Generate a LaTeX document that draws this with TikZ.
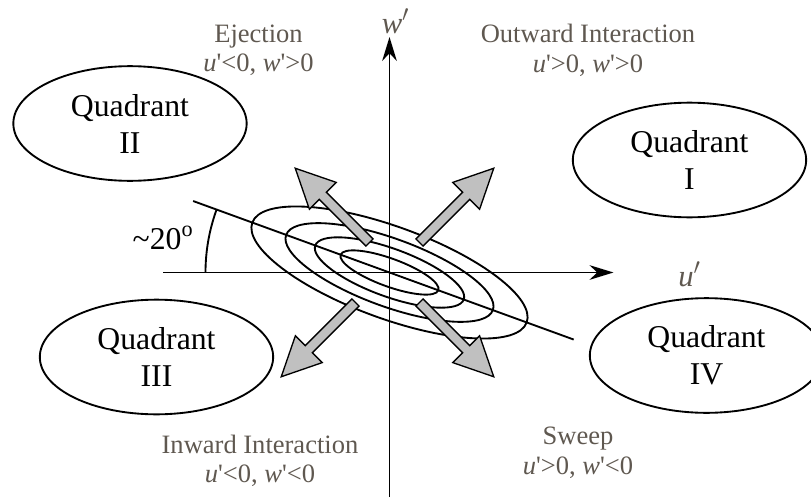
\documentclass[tikz,border=0pt]{standalone}
\usepackage{fontspec}
\setmainfont{Liberation Serif}
\usetikzlibrary{shapes.geometric,arrows.meta}
\definecolor{lblgray}{RGB}{95,88,80}
\definecolor{arrowgray}{RGB}{192,192,192}

\begin{document}
\begin{tikzpicture}[x=0.75pt, y=0.75pt, line width=1.4pt,
		quadrant/.style={draw, ellipse, minimum width=175pt, minimum height=86pt, inner sep=0pt, align=center, font=\fontsize{23.8}{27.75}\selectfont},
		lbl/.style={text=lblgray, align=center, font=\fontsize{19.9}{22}\selectfont},
		axislbl/.style={text=lblgray, anchor=base, font=\fontsize{23}{27}\selectfont\itshape},
		blockarrow/.style={draw, line width=1pt, fill=arrowgray, line join=miter}]
			\useasboundingbox (-389.5,-224.5) rectangle (421.5,272.5);
			% axes
			\coordinate (O) at (0,0);
			\coordinate (ustart) at (-226,0);
			\coordinate (uend) at (224,0);
			\coordinate (wstart) at (0,-224.5);
			\coordinate (wend) at (0,235.5);
			\draw[-{Stealth[length=18pt, width=11pt]}] (ustart) -- (uend);
			\draw[-{Stealth[length=18pt, width=11pt]}] (wstart) -- (wend);
			\node[axislbl] (ulbl) at (300,-14) {u$'$};
			\node[axislbl] (wlbl) at (6,239) {w$'$};
			% tilted line, angle and contours
			\coordinate (tstart) at (160:209);
			\coordinate (tend) at (-20:196);
			\draw (tstart) -- (tend);
			\draw (180:184) arc (180:160:184);
			\node[anchor=base, font=\fontsize{23.8}{27}\selectfont] (ang) at (-226.5,23.5) {\textasciitilde20\textsuperscript{o}};
			\foreach \a/\b in {52/14, 79/24, 110/34, 146/46}
				\draw[rotate=-20] (O) ellipse [x radius=\a, y radius=\b];
			% sweeps and ejections
			\foreach \x/\y/\r in {-20/30/135, 30/30/45, -34/-30/225, 30/-30/315}
				\draw[blockarrow, shift={(\x,\y)}, rotate=\r] (0,5) -- (66,5) -- (66,19) -- (105,0) -- (66,-19) -- (66,-5) -- (0,-5) -- cycle;
			% quadrants
			\node[quadrant] (q2) at (-259.5,149) {Quadrant\\II};
			\node[quadrant] (q1) at (300,112.5) {Quadrant\\I};
			\node[quadrant] (q3) at (-233,-84.5) {Quadrant\\III};
			\node[quadrant] (q4) at (317,-83) {Quadrant\\IV};
			% events
			\node[lbl] (eject) at (-131,222) {Ejection\\\textit{u}\textquotesingle{}<0, \textit{w}\textquotesingle{}>0};
			\node[lbl] (outward) at (198.5,222) {Outward Interaction\\\textit{u}\textquotesingle{}>0, \textit{w}\textquotesingle{}>0};
			\node[lbl] (inward) at (-129.5,-188.3) {Inward Interaction\\\textit{u}\textquotesingle{}<0, \textit{w}\textquotesingle{}<0};
			\node[lbl] (sweep) at (188.5,-180.3) {Sweep\\\textit{u}\textquotesingle{}>0, \textit{w}\textquotesingle{}<0};
		\end{tikzpicture}
\end{document}
